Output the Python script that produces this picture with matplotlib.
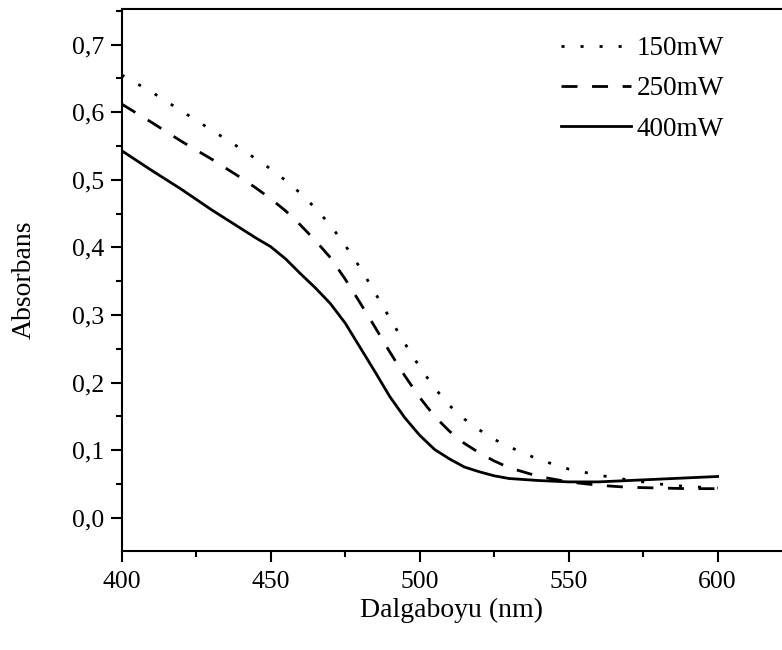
import matplotlib
matplotlib.use("Agg")
import matplotlib.pyplot as plt
from matplotlib.ticker import MultipleLocator, FuncFormatter

# wavelength grid (nm) and absorbance
wavelength = [400, 410, 420, 430, 440, 445, 450, 455, 460, 465, 470, 475, 480,
              485, 490, 495, 500, 505, 510, 515, 520, 525, 530, 540, 550, 560,
              570, 580, 590, 600]
abs_150mw = [0.655, 0.630, 0.602, 0.574, 0.546, 0.531, 0.516, 0.499, 0.480,
             0.458, 0.433, 0.403, 0.370, 0.333, 0.295, 0.258, 0.223, 0.192,
             0.166, 0.146, 0.130, 0.116, 0.105, 0.086, 0.072, 0.063, 0.056,
             0.050, 0.046, 0.044]
abs_250mw = [0.612, 0.585, 0.557, 0.531, 0.503, 0.488, 0.472, 0.454, 0.433,
             0.410, 0.385, 0.353, 0.318, 0.282, 0.245, 0.210, 0.178, 0.150,
             0.128, 0.110, 0.096, 0.084, 0.074, 0.061, 0.053, 0.048, 0.045,
             0.044, 0.043, 0.043]
abs_400mw = [0.543, 0.514, 0.486, 0.456, 0.428, 0.414, 0.401, 0.383, 0.361,
             0.340, 0.317, 0.288, 0.252, 0.216, 0.179, 0.148, 0.122, 0.101,
             0.087, 0.075, 0.068, 0.062, 0.058, 0.055, 0.053, 0.053, 0.055,
             0.057, 0.059, 0.061]
labels = ["150mW", "250mW", "400mW"]

plt.rcParams["font.family"] = ["Liberation Serif", "DejaVu Serif"]
plt.rcParams["lines.scale_dashes"] = False

W, H = 782, 650
fig = plt.figure(figsize=(W / 100, H / 100), dpi=100)
ax = fig.add_axes([121.7 / W, 1 - 550.7 / H, 1 - 121.7 / W, (550.7 - 8.5) / H])

ax.plot(wavelength, abs_150mw, color="black", lw=2.0, dashes=(2.2, 11.5),
        label=labels[0])
ax.plot(wavelength, abs_250mw, color="black", lw=2.0, dashes=(11.5, 10.5),
        label=labels[1])
ax.plot(wavelength, abs_400mw, color="black", lw=2.0, label=labels[2])

ax.set_xlim(400, 621.6)
ax.set_ylim(-0.0488, 0.7534)

ax.xaxis.set_major_locator(MultipleLocator(50))
ax.xaxis.set_minor_locator(MultipleLocator(25))
ax.yaxis.set_major_locator(MultipleLocator(0.1))
ax.yaxis.set_minor_locator(MultipleLocator(0.05))
ax.yaxis.set_major_formatter(FuncFormatter(lambda v, p: f"{v:.1f}".replace(".", ",").replace("-0,0", "0,0")))

for side in ["left", "bottom", "top"]:
    ax.spines[side].set_linewidth(1.5)
ax.spines["right"].set_visible(False)

ax.tick_params(which="major", direction="out", length=7.8, width=1.5,
               labelsize=18.5, pad=5, top=False, right=False)
ax.tick_params(axis="x", which="major", pad=7)
ax.tick_params(which="minor", direction="out", length=4, width=1.5,
               top=False, right=False)

ax.set_xlabel("Dalgaboyu (nm)", fontsize=20, labelpad=3)
ax.set_ylabel("Absorbans", fontsize=20, labelpad=25)

ax.legend(loc="upper left", bbox_to_anchor=(561 / W, 1 - 36 / H),
          bbox_transform=fig.transFigure, frameon=False, fontsize=19.5,
          handlelength=2.6, handletextpad=0.2, borderpad=0, borderaxespad=0,
          labelspacing=0.57)

fig.savefig("out.png", dpi=100)
